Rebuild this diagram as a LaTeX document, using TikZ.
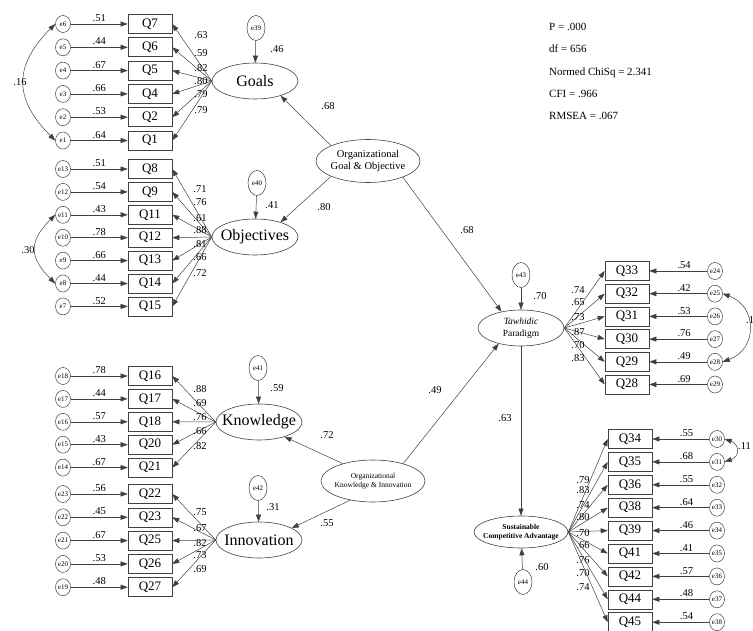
\documentclass[tikz,border=0pt]{standalone}
\usepackage{fontspec}
\setmainfont{Liberation Serif}
\usetikzlibrary{shapes.geometric,arrows.meta}

\tikzset{
  obs/.style={draw=black!75, line width=0.6pt, minimum width=44pt, minimum height=19pt, inner sep=0pt, font=\fontsize{13}{13}\selectfont},
  err/.style={ellipse, draw=black!75, line width=0.5pt, minimum width=15pt, minimum height=17pt, inner sep=0pt, font=\fontsize{7}{7}\selectfont},
  lerr/.style={err, minimum width=18pt, minimum height=25pt},
  lat/.style={ellipse, draw=black!75, line width=0.6pt, minimum width=86pt, minimum height=36pt, inner sep=0pt, inner xsep=-8pt, font=\fontsize{16}{16}\selectfont},
  val/.style={font=\fontsize{10.5}{10.5}\selectfont, inner sep=1pt},
  arr/.style={->, draw=black!75, line width=0.5pt},
  cov/.style={<->, draw=black!75, line width=0.5pt},
}

\begin{document}
\begin{tikzpicture}[>={Triangle[length=7pt,width=5pt]}, x=1pt, y=1pt]
    \useasboundingbox (0,0) rectangle (753,-631);

    % Latent variables
    \node[lat] (Goals) at (255,-81) {Goals};
    \node[lat] (Obj) at (255,-237) {Objectives};
    \node[lat] (Know) at (259,-422) {Knowledge};
    \node[lat] (Innov) at (259,-540) {Innovation};
    \node[lat, minimum width=104pt, minimum height=43pt, align=center, font=\fontsize{10.5}{12}\selectfont] (OrgGO) at (368,-161) {Organizational\\Goal \& Objective};
    \node[lat, minimum width=104pt, minimum height=42pt, align=center, font=\fontsize{7.5}{9}\selectfont] (OrgKI) at (373,-481) {Organizational\\Knowledge \& Innovation};
    \node[lat, align=center, font=\fontsize{9.5}{12}\selectfont] (Tawh) at (521,-328) {\textit{Tawhidic}\\Paradigm};
    \node[lat, minimum width=94pt, minimum height=32pt, align=center, font=\bfseries\fontsize{7.5}{9}\selectfont] (SCA) at (521,-532) {Sustainable\\Competitive Advantage};

    % Disturbances
    \node[lerr] (e39) at (256,-28) {e39};
    \node[lerr] (e40) at (257,-183) {e40};
    \node[lerr] (e41) at (258,-368) {e41};
    \node[lerr] (e42) at (258,-488) {e42};
    \node[lerr] (e43) at (521,-275) {e43};
    \node[lerr] (e44) at (523,-582) {e44};
    \draw[arr] (e39) -- (Goals);
    \draw[arr] (e40) -- (Obj);
    \draw[arr] (e41) -- (Know);
    \draw[arr] (e42) -- (Innov);
    \draw[arr] (e43) -- (Tawh);
    \draw[arr] (e44) -- (SCA);
    \node[val] (r46) at (277,-49) {.46};
    \node[val] (r41) at (272,-205) {.41};
    \node[val] (r59) at (277,-388) {.59};
    \node[val] (r31) at (273,-507) {.31};
    \node[val] (r70) at (540,-296) {.70};
    \node[val] (r60) at (542,-567) {.60};

    % Structural paths
    \draw[arr] (OrgGO.north west) -- (Goals.-30);
    \draw[arr] (OrgGO.south west) -- (Obj.30);
    \draw[arr] (OrgGO.-25) -- (Tawh.140);
    \draw[arr] (OrgKI.150) -- (Know.-30);
    \draw[arr] (OrgKI.220) -- (Innov.20);
    \draw[arr] (OrgKI.30) -- (Tawh.215);
    \draw[arr] (Tawh) -- (SCA);
    \node[val] (s1) at (328,-106) {.68};
    \node[val] (s2) at (324,-207) {.80};
    \node[val] (s3) at (467,-230) {.68};
    \node[val] (s4) at (327,-435) {.72};
    \node[val] (s5) at (327,-523) {.55};
    \node[val] (s6) at (435,-390) {.49};
    \node[val] (s7) at (505,-418) {.63};

    % Goals items
    \foreach \q/\e/\v/\l/\ly [count=\i] in {7/6/.51/.63/35, 6/5/.44/.59/53, 5/4/.67/.82/68, 4/3/.66/.80/81, 2/2/.53/.79/94, 1/1/.64/.79/110}{
        \pgfmathsetmacro\y{-24-(\i-1)*23.3}
        \node[obs] (Q\q) at (150,\y) {Q\q};
        \node[err] (e\e) at (63,\y) {e\e};
        \draw[arr] (e\e) -- node[val,above=1pt] {\v} (Q\q);
        \draw[arr] (Goals.west) -- (Q\q.east);
        \node[val] (l\q) at (201,-\ly) {\l};
    }

    % Objectives items
    \foreach \q/\e/\v/\l/\ly [count=\i] in {8/13/.51/.71/189, 9/12/.54/.76/202, 11/11/.43/.61/218, 12/10/.78/.88/230, 13/9/.66/.81/244, 14/8/.44/.66/257, 15/7/.52/.72/273}{
        \pgfmathsetmacro\y{-169-(\i-1)*22.9}
        \node[obs] (Q\q) at (150,\y) {Q\q};
        \node[err] (e\e) at (63,\y) {e\e};
        \draw[arr] (e\e) -- node[val,above=1pt] {\v} (Q\q);
        \draw[arr] (Obj.west) -- (Q\q.east);
        \node[val] (l\q) at (200,-\ly) {\l};
    }

    % Knowledge items
    \foreach \q/\e/\v/\l/\ly [count=\i] in {16/18/.78/.88/389, 17/17/.44/.69/403, 18/16/.57/.76/417, 20/15/.43/.66/431, 21/14/.67/.82/446}{
        \pgfmathsetmacro\y{-376-(\i-1)*22.9}
        \node[obs] (Q\q) at (150,\y) {Q\q};
        \node[err] (e\e) at (63,\y) {e\e};
        \draw[arr] (e\e) -- node[val,above=1pt] {\v} (Q\q);
        \draw[arr] (Know.west) -- (Q\q.east);
        \node[val] (l\q) at (200,-\ly) {\l};
    }

    % Innovation items
    \foreach \q/\e/\v/\l/\ly [count=\i] in {22/23/.56/.75/512, 23/22/.45/.67/528, 25/21/.67/.82/543, 26/20/.53/.73/555, 27/19/.48/.69/569}{
        \pgfmathsetmacro\y{-494-(\i-1)*23.3}
        \node[obs] (Q\q) at (150,\y) {Q\q};
        \node[err] (e\e) at (63,\y) {e\e};
        \draw[arr] (e\e) -- node[val,above=1pt] {\v} (Q\q);
        \draw[arr] (Innov.west) -- (Q\q.east);
        \node[val] (l\q) at (200,-\ly) {\l};
    }

    % Tawhidic Paradigm items
    \foreach \q/\e/\v/\l/\ly [count=\i] in {33/24/.54/.74/290, 32/25/.42/.65/302, 31/26/.53/.73/317, 30/27/.76/.87/332, 29/28/.49/.70/345, 28/29/.69/.83/358}{
        \pgfmathsetmacro\y{-271-(\i-1)*22.7}
        \node[obs] (Q\q) at (627,\y) {Q\q};
        \node[err] (e\e) at (715,\y) {e\e};
        \draw[arr] (e\e) -- node[val,above=1pt,pos=0.4] {\v} (Q\q);
        \draw[arr] (Tawh.east) -- (Q\q.west);
        \node[val] (l\q) at (578,-\ly) {\l};
    }

    % Sustainable Competitive Advantage items
    \foreach \q/\e/\v/\l/\ly [count=\i] in {34/30/.55/.79/480, 35/31/.68/.83/490, 36/32/.55/.74/505, 38/33/.64/.80/517, 39/34/.46/.70/533, 41/35/.41/.66/545, 42/36/.57/.76/560, 44/37/.48/.70/573, 45/38/.54/.74/587}{
        \pgfmathsetmacro\y{-439-(\i-1)*22.9}
        \node[obs] (Q\q) at (630,\y) {Q\q};
        \node[err] (e\e) at (717,\y) {e\e};
        \draw[arr] (e\e) -- node[val,above=1pt,pos=0.4] {\v} (Q\q);
        \draw[arr] (SCA.east) -- (Q\q.west);
        \node[val] (l\q) at (583,-\ly) {\l};
    }

    % Correlated errors
    \draw[cov] (e6.west) to[out=225,in=135,looseness=1.3] (e1.west);
    \node[val] (c16) at (20,-82) {.16};
    \draw[cov] (e11.west) to[out=225,in=135,looseness=1.4] (e8.west);
    \node[val] (c30) at (28,-250) {.30};
    \draw[cov] (e25.east) to[out=-20,in=20,looseness=1.4] (e28.east);
    \node[val, anchor=west] (c1) at (745,-320) {.1};
    \draw[cov] (e30.east) to[out=-20,in=20,looseness=1.8] (e31.east);
    \node[val, anchor=west] (c11) at (737,-446) {.11};

    % Fit indices
    \node[anchor=north west, align=left, inner sep=0pt, font=\fontsize{11}{22.3}\selectfont] (fit) at (549,-23) {P = .000\\df = 656\\Normed ChiSq = 2.341\\CFI = .966\\RMSEA = .067};
\end{tikzpicture}
\end{document}
